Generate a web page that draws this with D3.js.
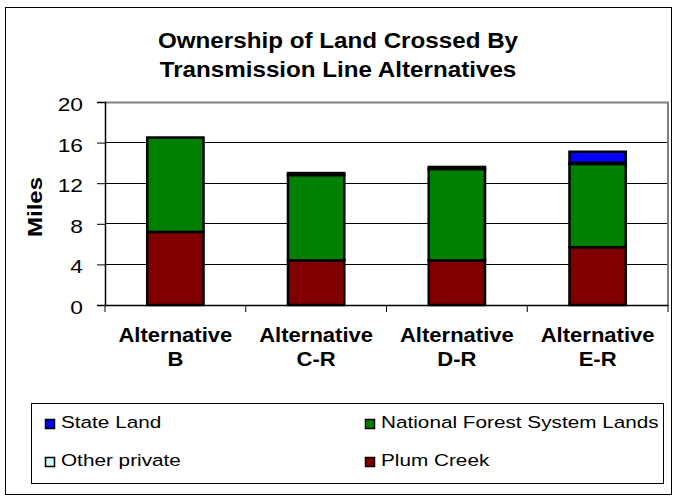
<!DOCTYPE html>
<html>
<head>
<meta charset="utf-8">
<script src="https://cdn.jsdelivr.net/npm/d3@7"></script>
<style>
  body { margin: 0; background: #fff; }
  text { font-family: "Liberation Sans", Arial, sans-serif; fill: #000; }
</style>
</head>
<body>
<svg id="chart" width="674" height="496"></svg>
<script>
var categories = ["Alternative|B", "Alternative|C-R", "Alternative|D-R", "Alternative|E-R"];
var seriesNames = ["Plum Creek", "National Forest System Lands", "Other private", "State Land"];
var plumCreek = [7.2, 4.4, 4.4, 5.7];
var nationalForest = [9.3, 8.4, 9.0, 8.2];
var otherPrivate = [0, 0.2, 0.2, 0.1];
var stateLand = [0, 0, 0, 1.1];
var yTicks = [0, 4, 8, 12, 16, 20];
var colors = ["#800000", "#008000", "#ccffff", "#0000ff"];

var rows = categories.map(function (c, i) {
  return { cat: c, "Plum Creek": plumCreek[i], "National Forest System Lands": nationalForest[i],
           "Other private": otherPrivate[i], "State Land": stateLand[i] };
});

var svg = d3.select("#chart");

// the source picture is a bit wider than normal type, so text is stretched
function label(parent, x, y, str, size, sx, bold, anchor) {
  return parent.append("text")
      .attr("transform", "translate(" + x + "," + y + ") scale(" + sx + ",1)")
      .attr("font-size", size)
      .attr("font-weight", bold ? "bold" : "normal")
      .attr("text-anchor", anchor || "start")
      .text(str);
}

// outer chart border
svg.append("rect").attr("x", 5.5).attr("y", 7.5).attr("width", 666).attr("height", 487)
    .attr("fill", "#fff").attr("stroke", "#000").attr("stroke-width", 1);

var margin = { top: 102, left: 105 },
    width = 563, height = 203,
    g = svg.append("g").attr("transform", "translate(" + margin.left + "," + margin.top + ")");

var x = d3.scaleBand().domain(categories).range([0, width]).paddingInner(0.6).paddingOuter(0.3);
var xb = d3.scaleBand().domain(categories).range([0, width]);
var y = d3.scaleLinear().domain([0, 20]).range([height, 0]);

// gridlines
g.selectAll(".grid").data(yTicks.slice(1, -1)).enter().append("line")
    .attr("x1", 0).attr("x2", width)
    .attr("y1", function (d) { return y(d); }).attr("y2", function (d) { return y(d); })
    .attr("stroke", "#000").attr("stroke-width", 1).attr("shape-rendering", "crispEdges");

// plot area border top/right
g.append("path").attr("d", "M0,0.5H" + width + "V" + height)
    .attr("fill", "none").attr("stroke", "#808080").attr("stroke-width", 2);

var stack = d3.stack().keys(seriesNames)(rows);

g.selectAll(".series").data(stack).enter().append("g")
    .attr("fill", function (d, i) { return colors[i]; })
  .selectAll("rect").data(function (d) { return d; }).enter().append("rect")
    .filter(function (d) { return d[1] - d[0] > 0; })
    .attr("x", function (d) { return x(d.data.cat); })
    .attr("width", x.bandwidth())
    .attr("y", function (d) { return y(d[1]); })
    .attr("height", function (d) { return y(d[0]) - y(d[1]); })
    .attr("stroke", "#000").attr("stroke-width", 2.5);

// y axis
var yAxis = g.append("g").call(d3.axisLeft(y).tickValues(yTicks).tickSize(8).tickPadding(14));
yAxis.select(".domain").attr("stroke", "#000").attr("stroke-width", 1.5);
yAxis.selectAll(".tick line").attr("stroke", "#000");
yAxis.selectAll("text")
    .attr("font-size", 17.5).attr("font-family", "Liberation Sans, Arial")
    .attr("x", -22 / 1.3).attr("dy", 8.5).attr("transform", "scale(1.3,1)");

// x axis
var xAxis = g.append("g").attr("transform", "translate(0," + height + ")")
    .call(d3.axisBottom(xb).tickSize(0).tickFormat(""));
xAxis.select(".domain").attr("stroke", "#000").attr("stroke-width", 1.5);
xAxis.selectAll(".sep").data(d3.range(5)).enter().append("line").attr("class", "sep")
    .attr("x1", function (d) { return d * xb.step(); }).attr("x2", function (d) { return d * xb.step(); })
    .attr("y1", 0).attr("y2", 7).attr("stroke", "#000");

categories.forEach(function (c) {
  var cx = xb(c) + xb.bandwidth() / 2;
  label(g, cx, height + 37, c.split("|")[0], 19.5, 1.13, true, "middle");
  label(g, cx, height + 61, c.split("|")[1], 19.5, 1.13, true, "middle");
});

// axis title
svg.append("text").attr("transform", "translate(42,207) rotate(-90) scale(1.2,1)")
    .attr("text-anchor", "middle").attr("font-size", 20).attr("font-weight", "bold").text("Miles");

// chart title
label(svg, 338, 48, "Ownership of Land Crossed By", 22, 1.1, true, "middle");
label(svg, 338, 77, "Transmission Line Alternatives", 22, 1.1, true, "middle");

// legend
var legend = svg.append("g");
legend.append("rect").attr("x", 31.5).attr("y", 403.5).attr("width", 632).attr("height", 80)
    .attr("fill", "#fff").attr("stroke", "#000");
var legendItems = [
  { name: "State Land", idx: 3, x: 45, y: 428 },
  { name: "National Forest System Lands", idx: 1, x: 365, y: 428 },
  { name: "Other private", idx: 2, x: 45, y: 466 },
  { name: "Plum Creek", idx: 0, x: 365, y: 466 }
];
var li = legend.selectAll(".li").data(legendItems).enter().append("g")
    .attr("transform", function (d) { return "translate(" + d.x + "," + d.y + ")"; });
li.append("rect").attr("x", 0.5).attr("y", -8.5).attr("width", 9).attr("height", 9)
    .attr("fill", function (d) { return colors[d.idx]; }).attr("stroke", "#000").attr("stroke-width", 1.5);
li.each(function (d) { label(d3.select(this), 16, 0, d.name, 17, 1.22, false, "start"); });
</script>
</body>
</html>
